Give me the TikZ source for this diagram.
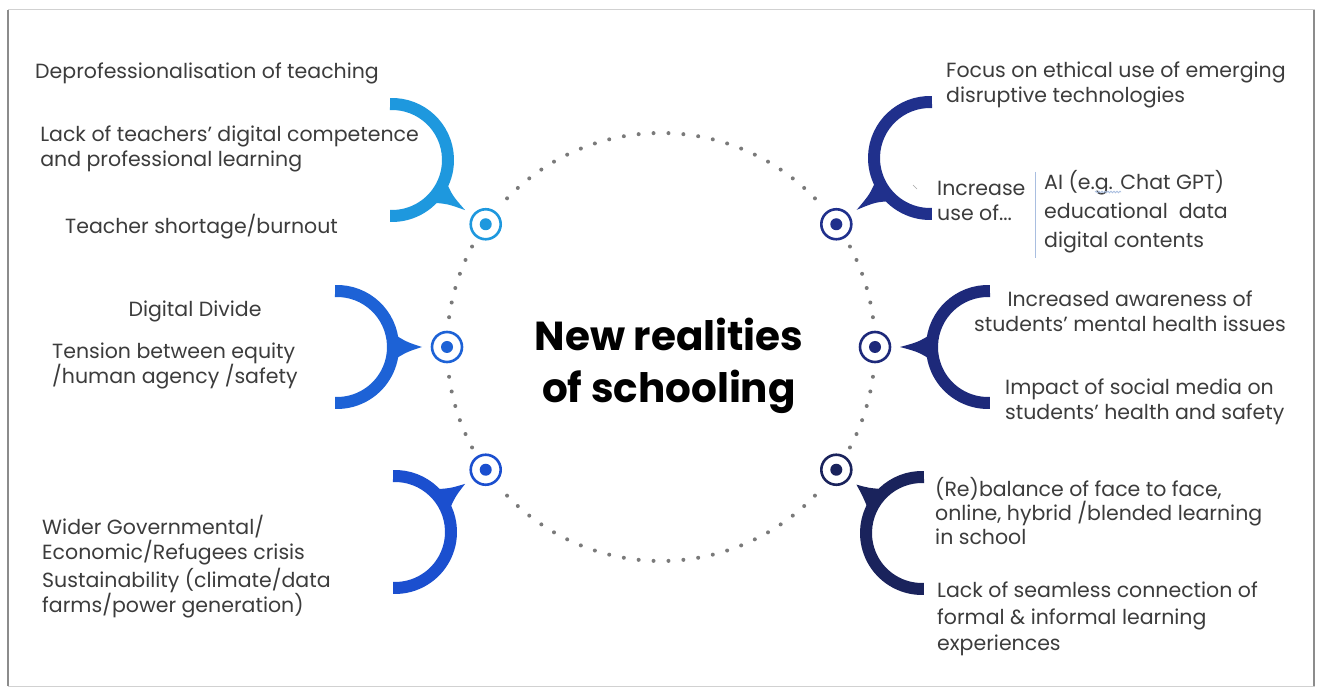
\documentclass[tikz,border=0pt]{standalone}
\usepackage{fontspec}
\setmainfont{Poppins}
\usetikzlibrary{calc,positioning,decorations.pathmorphing}

\definecolor{cLT}{HTML}{1E98DE}
\definecolor{cLM}{HTML}{1D62D6}
\definecolor{cLB}{HTML}{1B4FCF}
\definecolor{cRT}{HTML}{20308C}
\definecolor{cRM}{HTML}{1D297A}
\definecolor{cRB}{HTML}{1A235C}
\definecolor{txtgray}{HTML}{3C3C3C}
\definecolor{dotgray}{HTML}{7A7A7A}
\definecolor{rulecol}{HTML}{A9BEE0}

% tail of a bubble: centre, angle, marker, colour
\newcommand{\bubbletail}[4]{%
  \fill[#4] ($(#1)+(#2-15:56)$) .. controls ($(#1)+(#2-4:70)$) .. ($(#3)!25pt!(#1)$)
    .. controls ($(#1)+(#2+4:70)$) .. ($(#1)+(#2+15:56)$) -- cycle;}

\begin{document}
\begin{tikzpicture}[x=1pt,y=1pt,
    arcline/.style={line width=12pt},
    target/.style={circle, draw, line width=2.6pt, minimum size=30pt, inner sep=0pt, fill=white},
    txt/.style={text=txtgray, font=\fontsize{20.5}{25}\selectfont, inner sep=0pt, align=left},
    headline/.style={font=\fontsize{40.5}{52}\selectfont\bfseries, align=center, inner sep=0pt}]
  \useasboundingbox (0,0) rectangle (1322,688);
  \fill[white] (0,0) rectangle (1322,688);
  % frame
  \draw[black!18, line width=1pt] (8,2) rectangle (1314,678);
  \draw[black!45, line width=1.6pt] (8,2) -- (8,678);
  \draw[black!45, line width=1.6pt] (1314,2) -- (1314,678);

  % dotted ring
  \coordinate (ctr) at (661,341);
  \foreach \a in {0,4,...,356}
    \fill[dotgray] ($(ctr)+(\a:214)$) circle (2);

  % markers
  \foreach \ang/\nm in {145/LT,180/LM,215/LB,35/RT,0/RM,-35/RB} {
    \fill[white] ($(ctr)+(\ang:214)$) circle (22);
    \node[target, draw=c\nm] (m\nm) at ($(ctr)+(\ang:214)$) {};
    \fill[c\nm] (m\nm.center) circle (6);
  }

  % bubbles
  \coordinate (aLT) at (392,528);
  \coordinate (aLM) at (337,341);
  \coordinate (aLB) at (395,156);
  \coordinate (aRT) at (930,530);
  \coordinate (aRM) at (988,341);
  \coordinate (aRB) at (922,155);
  \foreach \nm in {LT,LM,LB}
    \draw[arcline, c\nm] ($(a\nm)+(92:56)$) arc[start angle=92, end angle=-92, radius=56];
  \foreach \nm in {RT,RM,RB}
    \draw[arcline, c\nm] ($(a\nm)+(88:56)$) arc[start angle=88, end angle=272, radius=56];
  \bubbletail{aLT}{-34.5}{mLT}{cLT}
  \bubbletail{aLM}{0}{mLM}{cLM}
  \bubbletail{aLB}{34.5}{mLB}{cLB}
  \bubbletail{aRT}{215}{mRT}{cRT}
  \bubbletail{aRM}{180}{mRM}{cRM}
  \bubbletail{aRB}{144}{mRB}{cRB}

  % centre title
  \node[headline] (title) at (669,322) {New realities\\of schooling};

  % left texts
  \node[txt, anchor=west] (deprof) at (35,615) {Deprofessionalisation of teaching};
  \begin{scope}
    \clip (27,500) rectangle (470,580);
    \node[txt, anchor=east] (lack) at (419,539.5) {Lack of teachers' digital competence\\and professional learning};
  \end{scope}
  \node[txt, anchor=west] (shortage) at (65,461) {Teacher shortage/burnout};
  \node[txt] (divide) at (195,377) {Digital Divide};
  \node[txt, anchor=west] (tension) at (52,322.5) {Tension between equity\\/human agency /safety};
  \node[txt, anchor=west] (wider) at (42,148) {Wider Governmental/\\Economic/Refugees crisis};
  \node[txt, anchor=west] (sustain) at (42,95) {Sustainability (climate/data\\farms/power generation)};

  % right texts
  \node[txt, anchor=west] (focus) at (946,603.5) {Focus on ethical use of emerging\\disruptive technologies};
  \node[txt, anchor=west] (increase) at (937,487) {Increase\\use of...};
  \draw[black!35, line width=0.6pt] (913,503) -- (917,499);
  \draw[rulecol, line width=1pt] (1035,516) -- (1035,430);
  \node[txt, anchor=west, font=\fontsize{20.5}{29}\selectfont] (uses) at (1044,476) {AI (e.g. Chat GPT)\\educational\ \ data\\digital contents};
  \draw[rulecol, line width=0.8pt, decorate, decoration={snake, amplitude=0.8pt, segment length=3pt}] (1095,496) -- (1121,496);
  \node[txt, align=center] (aware) at (1130,377) {Increased awareness of\\students' mental health issues};
  \node[txt, anchor=west] (impact) at (1005,286.5) {Impact of social media on\\students' health and safety};
  \node[txt, anchor=west, font=\fontsize{20.5}{24}\selectfont] (rebal) at (935,177) {(Re)balance of face to face,\\online, hybrid /blended learning\\in school};
  \node[txt, anchor=west, font=\fontsize{20.5}{26.5}\selectfont] (seam) at (937,69) {Lack of seamless connection of\\formal \& informal learning\\experiences};
\end{tikzpicture}
\end{document}
